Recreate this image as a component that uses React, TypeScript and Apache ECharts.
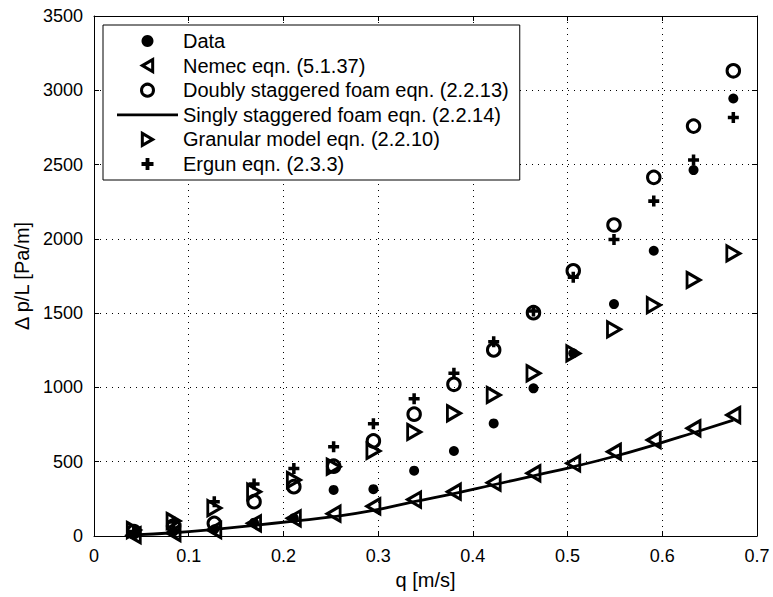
import React, { useEffect, useRef } from "react";
import * as echarts from "echarts";

const qValues = [0.042, 0.084, 0.127, 0.169, 0.211, 0.253, 0.295, 0.338, 0.380, 0.422, 0.464, 0.506, 0.549, 0.591, 0.633, 0.675];
const dataValues = [10, 30, 45, 90, 120, 310, 315, 440, 572, 758, 994, 1230, 1561, 1920, 2463, 2945];
const nemecValues = [5, 20, 40, 85, 119, 150, 200, 245, 298, 359, 422, 489, 567, 646, 725, 814];
const doublyValues = [30, 67, 85, 231, 332, 470, 640, 820, 1021, 1252, 1503, 1785, 2093, 2414, 2759, 3131];
const singlyValues = [8, 22, 45, 72, 100, 130, 172, 231, 285, 345, 405, 466, 535, 612, 695, 780];
const granularValues = [40, 101, 188, 298, 377, 466, 572, 700, 826, 949, 1095, 1229, 1391, 1554, 1723, 1902];
const ergunValues = [30, 95, 231, 350, 455, 601, 755, 924, 1095, 1308, 1515, 1741, 1996, 2254, 2530, 2817];

const seriesNames = [
  "Data",
  "Nemec eqn. (5.1.37)",
  "Doubly staggered foam eqn. (2.2.13)",
  "Singly staggered foam eqn. (2.2.14)",
  "Granular model eqn. (2.2.10)",
  "Ergun eqn. (2.3.3)",
];

const LEFT_TRI = "path://M10,0 L0,5.8 L10,11.6 Z";
const RIGHT_TRI = "path://M0,0 L10,5.8 L0,11.6 Z";
const PLUS = "path://M3.4,0 H6.6 V3.4 H10 V6.6 H6.6 V10 H3.4 V6.6 H0 V3.4 H3.4 Z";
const LINE_ICON = "path://M0,0 H61 V2.8 H0 Z";

const FONT = "'Liberation Sans', Arial, Helvetica, sans-serif";

const pairs = (vals: number[]) => qValues.map((q, i) => [q, vals[i]]);

export default function App() {
  const ref = useRef<HTMLDivElement>(null);
  useEffect(() => {
    if (!ref.current) return;
    const chart = echarts.init(ref.current, null, { renderer: "svg" });
    const openStyle = { color: "transparent", borderColor: "#000", borderWidth: 3, opacity: 1 };
    const solidStyle = { color: "#000", borderWidth: 0, opacity: 1 };
    const axisCommon = {
      type: "value" as const,
      axisLine: { show: true, onZero: false, lineStyle: { color: "#000", width: 1 } },
      axisTick: { show: true, inside: true, length: 5, lineStyle: { color: "#000" } },
    };
    const gridLine = { show: true, lineStyle: { type: [1, 5], color: "#000", width: 1 } };
    chart.setOption({
      animation: false,
      backgroundColor: "#fff",
      grid: { left: 94, right: 16, top: 16, bottom: 61, containLabel: false },
      legend: {
        show: true,
        orient: "vertical",
        left: 103,
        top: 25,
        padding: [5, 11, 5, 14],
        itemWidth: 61,
        itemHeight: 12,
        itemGap: 2.6,
        backgroundColor: "#fff",
        borderColor: "#000",
        borderWidth: 1,
        borderRadius: 0,
        textStyle: { fontFamily: FONT, fontSize: 20, color: "#000", lineHeight: 22 },
        selectedMode: false,
        data: [
          { name: seriesNames[0], itemStyle: solidStyle },
          { name: seriesNames[1], itemStyle: openStyle },
          { name: seriesNames[2], itemStyle: openStyle },
          { name: seriesNames[3], icon: LINE_ICON, itemStyle: solidStyle },
          { name: seriesNames[4], itemStyle: openStyle },
          { name: seriesNames[5], itemStyle: solidStyle },
        ],
      },
      xAxis: [
        {
          ...axisCommon,
          position: "bottom",
          min: 0,
          max: 0.7,
          interval: 0.1,
          name: "q [m/s]",
          nameLocation: "middle",
          nameGap: 33,
          nameTextStyle: { fontFamily: FONT, fontSize: 20, color: "#000" },
          axisLabel: {
            fontFamily: FONT,
            fontSize: 18,
            color: "#000",
            margin: 11,
            formatter: (v: number) => (v === 0 ? "0" : v.toFixed(1)),
          },
          splitLine: gridLine,
        },
        {
          ...axisCommon,
          position: "top",
          min: 0,
          max: 0.7,
          interval: 0.1,
          axisLabel: { show: false },
          splitLine: { show: false },
        },
      ],
      yAxis: [
        {
          ...axisCommon,
          position: "left",
          min: 0,
          max: 3500,
          interval: 500,
          name: "\u0394 p/L [Pa/m]",
          nameLocation: "middle",
          nameGap: 53,
          nameTextStyle: { fontFamily: FONT, fontSize: 20, color: "#000" },
          axisLabel: {
            fontFamily: FONT,
            fontSize: 18,
            color: "#000",
            margin: 11,
            formatter: (v: number) => String(v),
          },
          splitLine: gridLine,
        },
        {
          ...axisCommon,
          position: "right",
          min: 0,
          max: 3500,
          interval: 500,
          axisLabel: { show: false },
          splitLine: { show: false },
        },
      ],
      series: [
        {
          name: seriesNames[0],
          type: "scatter",
          data: pairs(dataValues),
          symbol: "circle",
          symbolSize: 10,
          itemStyle: solidStyle,
          z: 3,
        },
        {
          name: seriesNames[1],
          type: "scatter",
          data: pairs(nemecValues),
          symbol: LEFT_TRI,
          symbolSize: [13, 15],
          itemStyle: openStyle,
          z: 3,
        },
        {
          name: seriesNames[2],
          type: "scatter",
          data: pairs(doublyValues),
          symbol: "circle",
          symbolSize: 12.5,
          itemStyle: openStyle,
          z: 3,
        },
        {
          name: seriesNames[3],
          type: "line",
          data: pairs(singlyValues),
          symbol: "none",
          smooth: true,
          lineStyle: { color: "#000", width: 2.8 },
          itemStyle: { color: "#000" },
          z: 3,
        },
        {
          name: seriesNames[4],
          type: "scatter",
          data: pairs(granularValues),
          symbol: RIGHT_TRI,
          symbolSize: [13, 15],
          itemStyle: openStyle,
          z: 3,
        },
        {
          name: seriesNames[5],
          type: "scatter",
          data: pairs(ergunValues),
          symbol: PLUS,
          symbolSize: 11,
          itemStyle: solidStyle,
          z: 3,
        },
      ],
    });
    return () => chart.dispose();
  }, []);
  return <div ref={ref} style={{ width: 773, height: 597, position: "absolute", left: 0, top: 0 }} />;
}
